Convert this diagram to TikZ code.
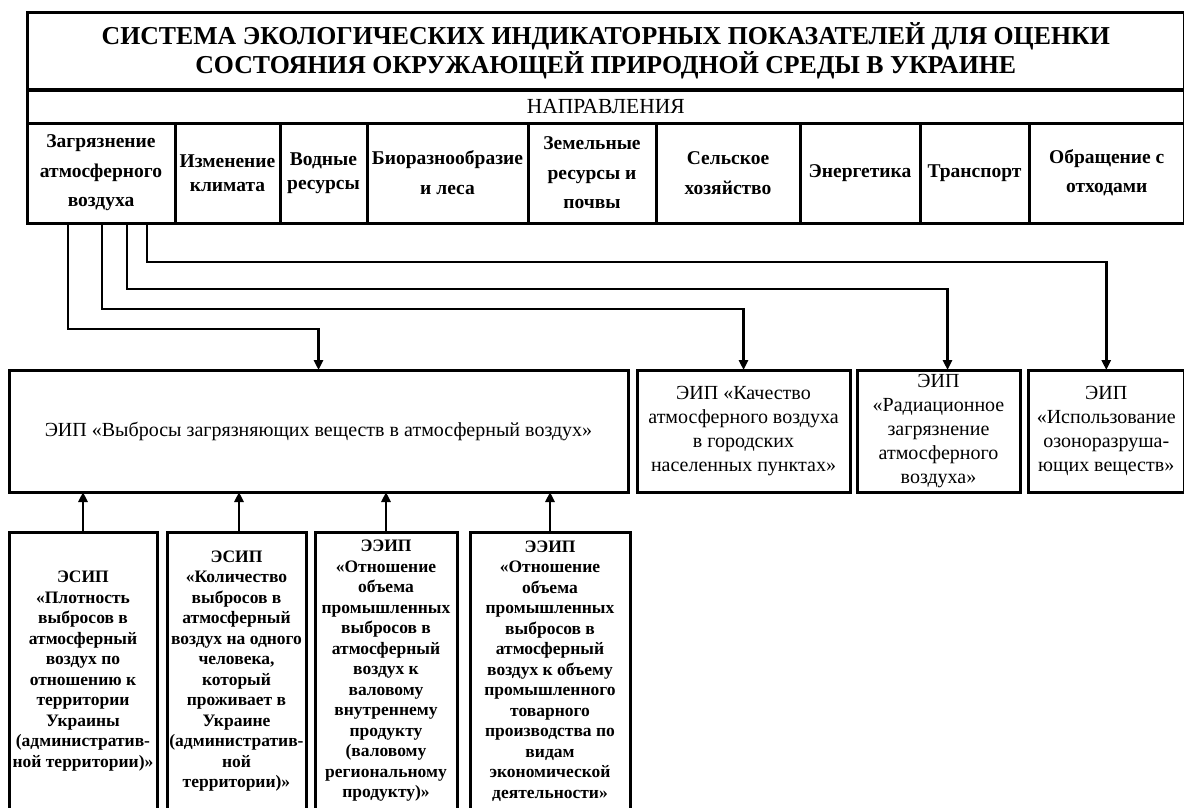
\documentclass[tikz,border=0pt]{standalone}
\usepackage{fontspec}
\setmainfont{Liberation Serif}
\usetikzlibrary{arrows.meta, positioning}

\begin{document}
\begin{tikzpicture}[
    x=1pt, y=-1pt,
    node distance=0pt,
    every node/.style={draw, line width=3pt, inner sep=0pt, outer sep=0pt, align=center},
    dir/.style={minimum height=100pt, font=\bfseries\fontsize{19.5}{29.5}\selectfont},
    eip/.style={minimum height=122pt, font=\fontsize{20}{24}\selectfont},
    sub/.style={minimum height=278pt, font=\bfseries\fontsize{17.5}{20.5}\selectfont},
    link/.style={draw, line width=2.8pt, -{Triangle[width=9pt,length=10pt]}}
]
\useasboundingbox (0,0) rectangle (1184,807);

\node (title) [minimum width=1157.5pt, minimum height=78pt, font=\bfseries\fontsize{25.8}{29}\selectfont] at (605.75,51)
    {СИСТЕМА ЭКОЛОГИЧЕСКИХ ИНДИКАТОРНЫХ ПОКАЗАТЕЛЕЙ ДЛЯ ОЦЕНКИ\\СОСТОЯНИЯ ОКРУЖАЮЩЕЙ ПРИРОДНОЙ СРЕДЫ В УКРАИНЕ};
\node (dirs) [below=of title, minimum width=1157.5pt, minimum height=33pt, font=\fontsize{21.5}{24}\selectfont] {НАПРАВЛЕНИЯ};
\draw[line width=4.5pt] (title.south west) -- (title.south east);

\node (air) [dir, minimum width=148pt, anchor=north west] at (dirs.south west) {Загрязнение\\атмосферного\\воздуха};
\node (clim) [dir, minimum width=105pt, right=of air, font=\bfseries\fontsize{19.5}{24}\selectfont] {Изменение\\климата};
\node (water) [dir, minimum width=87pt, right=of clim, font=\bfseries\fontsize{19.5}{24}\selectfont] {Водные\\ресурсы};
\node (bio) [dir, minimum width=161pt, right=of water, font=\bfseries\fontsize{19.5}{30}\selectfont] {Биоразнообразие\\и леса};
\node (land) [dir, minimum width=128pt, right=of bio] {Земельные\\ресурсы и\\почвы};
\node (agri) [dir, minimum width=144pt, right=of land, font=\bfseries\fontsize{19.5}{30}\selectfont] {Сельское\\хозяйство};
\node (energy) [dir, minimum width=120pt, right=of agri] {Энергетика};
\node (transp) [dir, minimum width=109pt, right=of energy] {Транспорт};
\node (waste) [dir, minimum width=155.5pt, right=of transp, font=\bfseries\fontsize{19.5}{29}\selectfont] {Обращение с\\отходами};

% indicators
\node (emis) [eip, minimum width=619pt] at (318.5,431) {ЭИП «Выбросы загрязняющих веществ в атмосферный воздух»};
\node (qual) [eip, minimum width=213pt, right=9pt of emis] {ЭИП «Качество\\атмосферного воздуха\\в городских\\населенных пунктах»};
\node (rad) [eip, minimum width=163pt, right=7pt of qual] {ЭИП\\«Радиационное\\загрязнение\\атмосферного\\воздуха»};
\node (ozone) [eip, minimum width=156.5pt, right=8pt of rad] {ЭИП\\«Использование\\озоноразруша-\\ющих веществ»};

% sub-indicators
\node (dens) [sub, minimum width=148pt, anchor=north west] at (9,532)
    {ЭСИП\\«Плотность\\выбросов в\\атмосферный\\воздух по\\отношению к\\территории\\Украины\\(административ-\\ной территории)»};
\node (percap) [sub, minimum width=139pt, right=10pt of dens]
    {ЭСИП\\«Количество\\выбросов в\\атмосферный\\воздух на одного\\человека,\\который\\проживает в\\Украине\\(административ-\\ной\\территории)»};
\node (gdp) [sub, minimum width=142pt, right=9pt of percap]
    {ЭЭИП\\«Отношение\\объема\\промышленных\\выбросов в\\атмосферный\\воздух к\\валовому\\внутреннему\\продукту\\(валовому\\региональному\\продукту)»};
\node (prod) [sub, minimum width=160pt, right=13pt of gdp]
    {ЭЭИП\\«Отношение\\объема\\промышленных\\выбросов в\\атмосферный\\воздух к объему\\промышленного\\товарного\\производства по\\видам\\экономической\\деятельности»};

\draw[link] ([xshift=-33pt]air.south) -- ++(0,106) -| (emis.north);
\draw[link] ([xshift=1pt]air.south) -- ++(0,86) -| (qual.north);
\draw[link] ([xshift=26pt]air.south) -- ++(0,66) -| ([xshift=9pt]rad.north);
\draw[link] ([xshift=46pt]air.south) -- ++(0,39) -| (ozone.north);

\draw[link] (dens.north) -- (dens.north |- emis.south);
\draw[link] ([xshift=2.5pt]percap.north) -- ([xshift=2.5pt]percap.north |- emis.south);
\draw[link] (gdp.north) -- (gdp.north |- emis.south);
\draw[link] (prod.north) -- (prod.north |- emis.south);

\end{tikzpicture}
\end{document}
